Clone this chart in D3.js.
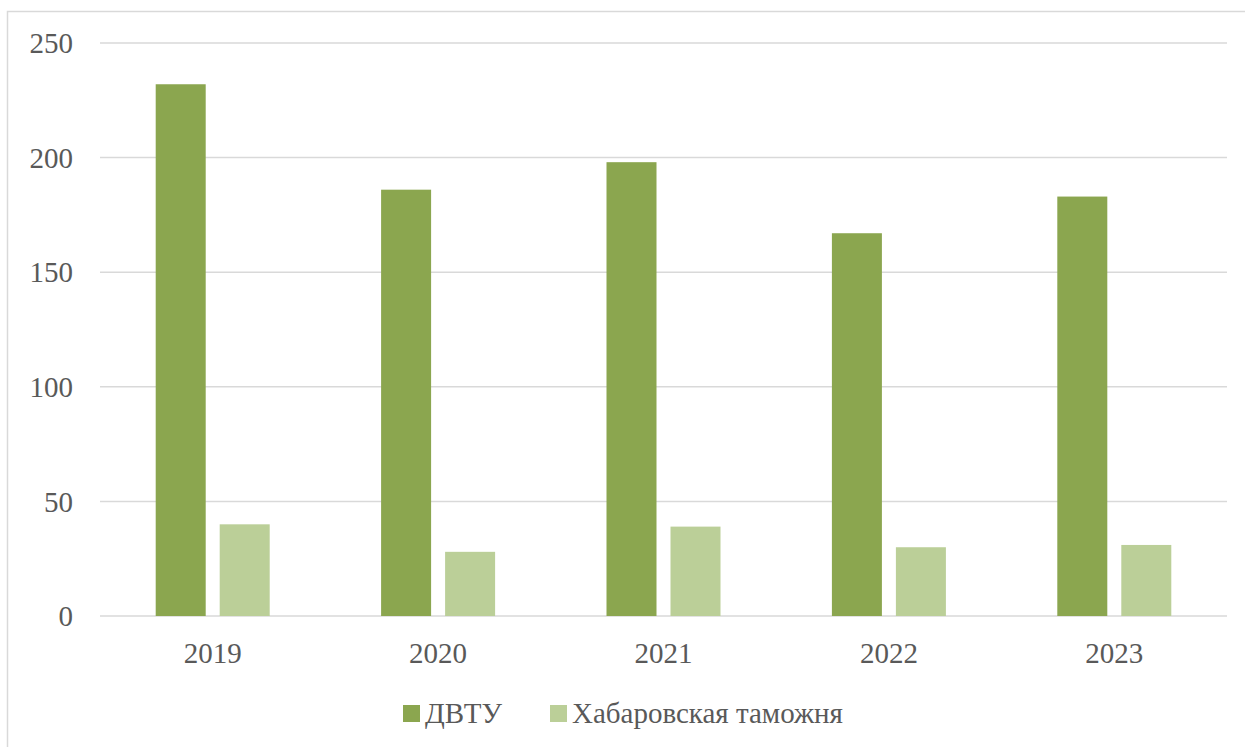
<!DOCTYPE html>
<html>
<head>
<meta charset="utf-8">
<script src="https://cdn.jsdelivr.net/npm/d3@7"></script>
<style>
  body { margin: 0; background: #fff; }
</style>
</head>
<body>
<script>
// Data
const years = ["2019", "2020", "2021", "2022", "2023"];
const seriesNames = ["ДВТУ", "Хабаровская таможня"];
const dvtu = [232, 186, 198, 167, 183];
const khab = [40, 28, 39, 30, 31];
const yTicks = [0, 50, 100, 150, 200, 250];

const width = 1245;
const height = 747;
const margin = { top: 43, right: 18, bottom: 131, left: 100 };
const colors = ["#8BA64F", "#BBCF98"];
const font = "'Liberation Serif', 'Times New Roman', Times, 'DejaVu Serif', serif";

const svg = d3.select("body")
    .append("svg")
    .attr("width", width)
    .attr("height", height)
    .attr("font-family", font)
    .style("font-family", font);

// outer chart frame (runs off the right and bottom edge)
svg.append("rect")
    .attr("x", 7.5)
    .attr("y", 11.5)
    .attr("width", 1400)
    .attr("height", 900)
    .attr("fill", "none")
    .attr("stroke", "#d9d9d9")
    .attr("stroke-width", 1.5);

// Scales
const x = d3.scaleBand().domain(years).range([margin.left, width - margin.right]);
const y = d3.scaleLinear().domain([0, 250]).range([height - margin.bottom, margin.top]);
const barW = 50;
const barGap = 14;

// Gridlines
svg.append("g")
    .selectAll("line")
    .data(yTicks)
    .join("line")
    .attr("x1", margin.left)
    .attr("x2", width - margin.right)
    .attr("y1", (d) => y(d))
    .attr("y2", (d) => y(d))
    .attr("stroke", "#d9d9d9")
    .attr("stroke-width", 1.5);

// Y tick labels
svg.append("g")
    .selectAll("text")
    .data(yTicks)
    .join("text")
    .attr("x", 73)
    .attr("y", (d) => y(d))
    .attr("dy", "0.35em")
    .attr("text-anchor", "end")
    .attr("font-size", "29px")
    .attr("fill", "#595959")
    .text((d) => d);

// Bars
const rows = years.map((yr, i) => ({ year: yr, values: [dvtu[i], khab[i]] }));
const groups = svg.append("g")
    .selectAll("g")
    .data(rows)
    .join("g");

groups.selectAll("rect")
    .data((d) => d.values.map((v, k) => ({ year: d.year, v, k })))
    .join("rect")
    .attr("x", (d) => x(d.year) + x.bandwidth() / 2 - barW - barGap / 2 + d.k * (barW + barGap))
    .attr("y", (d) => y(d.v))
    .attr("width", barW)
    .attr("height", (d) => y(0) - y(d.v))
    .attr("fill", (d) => colors[d.k]);

// X labels
svg.append("g")
    .selectAll("text")
    .data(years)
    .join("text")
    .attr("x", (d) => x(d) + x.bandwidth() / 2)
    .attr("y", 663)
    .attr("text-anchor", "middle")
    .attr("font-size", "29px")
    .attr("fill", "#595959")
    .text((d) => d);

// Legend
const legendX = [403, 550];
const legend = svg.append("g")
    .selectAll("g")
    .data(seriesNames)
    .join("g")
    .attr("transform", (d, i) => `translate(${legendX[i]}, 705)`);

legend.append("rect")
    .attr("width", 17)
    .attr("height", 17)
    .attr("fill", (d, i) => colors[i]);

legend.append("text")
    .attr("x", 22)
    .attr("y", 18)
    .attr("font-size", "29px")
    .attr("fill", "#595959")
    .text((d) => d);
</script>
</body>
</html>
